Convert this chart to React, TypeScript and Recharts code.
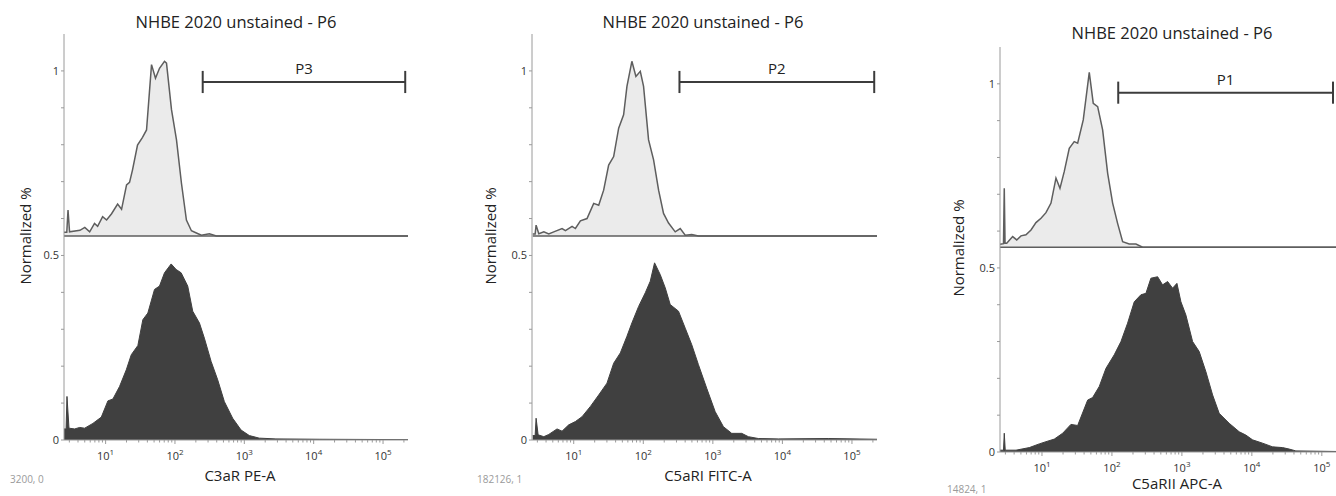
import React from "react";
import { ComposedChart, Area, XAxis, YAxis, ReferenceLine } from "recharts";

// x values are log10 of the channel intensity, y is normalized %
const TITLES = ["NHBE 2020 unstained - P6", "NHBE 2020 unstained - P6", "NHBE 2020 unstained - P6"];
const X_LABELS = ["C3aR PE-A", "C5aRI FITC-A", "C5aRII APC-A"];
const CORNER_NOTES = ["3200, 0", "182126, 1", "14824, 1"];
const GATE_NAMES = ["P3", "P2", "P1"];
const GATE_RANGES: [number, number][] = [
  [2.4, 5.32],
  [2.52, 5.32],
  [2.09, 5.16],
];
const GATE_LEVELS = [0.97, 0.97, 0.976];
const UNSTAINED_BASE = [0.553, 0.553, 0.556];
const Y_TICKS = [0, 0.1, 0.2, 0.3, 0.4, 0.5, 0.6, 0.7, 0.8, 0.9, 1];
const DECADES = [0, 1, 2, 3, 4, 5];
const X_DOMAIN: [number, number] = [0.4, 5.36];

const C3AR_UNSTAINED: [number, number][] = [
  [0.4, 0.01], [0.44, 0.01], [0.458, 0.07], [0.48, 0.011], [0.63, 0.015], [0.7, 0.023],
  [0.77, 0.011], [0.84, 0.034], [0.885, 0.026], [0.957, 0.052], [1.014, 0.043], [1.086, 0.06],
  [1.173, 0.086], [1.23, 0.072], [1.302, 0.138], [1.345, 0.145], [1.388, 0.179], [1.46, 0.246],
  [1.532, 0.267], [1.59, 0.287], [1.662, 0.464], [1.719, 0.427], [1.777, 0.454], [1.849, 0.473],
  [1.878, 0.468], [1.95, 0.342], [2.022, 0.26], [2.094, 0.142], [2.165, 0.043], [2.237, 0.014],
  [2.309, 0.008], [2.381, 0.002], [2.496, 0.006], [2.597, 0], [5.36, 0],
];
const C3AR_STAINED: [number, number][] = [
  [0.4, 0.03], [0.43, 0.03], [0.443, 0.118], [0.472, 0.032], [0.554, 0.03], [0.626, 0.034],
  [0.698, 0.032], [0.817, 0.045], [0.938, 0.062], [1.033, 0.106], [1.105, 0.111], [1.201, 0.145],
  [1.298, 0.19], [1.37, 0.231], [1.465, 0.256], [1.537, 0.326], [1.609, 0.344], [1.705, 0.408],
  [1.777, 0.417], [1.849, 0.453], [1.945, 0.477], [2.017, 0.462], [2.089, 0.453], [2.184, 0.417],
  [2.256, 0.349], [2.353, 0.317], [2.424, 0.276], [2.521, 0.213], [2.616, 0.163], [2.712, 0.104],
  [2.832, 0.059], [2.953, 0.027], [3.072, 0.012], [3.216, 0.005], [3.456, 0.003], [4.079, 0.002],
  [5.36, 0.001],
];
const C5AR1_UNSTAINED: [number, number][] = [
  [0.41, 0.005], [0.445, 0.005], [0.459, 0.029], [0.498, 0.006], [0.57, 0.011], [0.641, 0.005],
  [0.713, 0.011], [0.832, 0.02], [0.881, 0.014], [0.976, 0.026], [1.024, 0.02], [1.096, 0.041],
  [1.191, 0.047], [1.287, 0.088], [1.359, 0.083], [1.43, 0.124], [1.502, 0.192], [1.574, 0.215],
  [1.646, 0.292], [1.717, 0.328], [1.765, 0.405], [1.836, 0.473], [1.894, 0.432], [1.957, 0.446],
  [2.004, 0.405], [2.076, 0.26], [2.148, 0.206], [2.22, 0.124], [2.291, 0.061], [2.363, 0.035],
  [2.459, 0.011], [2.531, 0.02], [2.603, 0.002], [2.697, 0.004], [2.793, 0], [5.36, 0],
];
const C5AR1_STAINED: [number, number][] = [
  [0.41, 0.012], [0.445, 0.012], [0.459, 0.059], [0.488, 0.014], [0.57, 0.009], [0.641, 0.015],
  [0.76, 0.03], [0.832, 0.024], [0.928, 0.041], [1.024, 0.05], [1.119, 0.063], [1.24, 0.091],
  [1.359, 0.122], [1.478, 0.154], [1.574, 0.208], [1.67, 0.236], [1.765, 0.281], [1.836, 0.317],
  [1.933, 0.362], [2.029, 0.399], [2.1, 0.43], [2.162, 0.48], [2.244, 0.448], [2.316, 0.412],
  [2.387, 0.367], [2.506, 0.349], [2.603, 0.303], [2.697, 0.258], [2.793, 0.204], [2.912, 0.14],
  [3.033, 0.077], [3.152, 0.036], [3.271, 0.018], [3.415, 0.018], [3.511, 0.009], [3.654, 0.004],
  [3.941, 0.003], [4.659, 0.004], [5.36, 0.002],
];
const C5AR2_UNSTAINED: [number, number][] = [
  [0.4, 0.008], [0.45, 0.01], [0.461, 0.16], [0.472, 0.011], [0.496, 0.011], [0.581, 0.029],
  [0.639, 0.02], [0.7, 0.031], [0.771, 0.034], [0.843, 0.047], [0.914, 0.067], [0.986, 0.079],
  [1.057, 0.094], [1.129, 0.12], [1.2, 0.188], [1.257, 0.16], [1.319, 0.206], [1.39, 0.269],
  [1.461, 0.287], [1.51, 0.283], [1.59, 0.346], [1.676, 0.475], [1.733, 0.391], [1.796, 0.382],
  [1.867, 0.319], [1.939, 0.201], [2.01, 0.12], [2.081, 0.065], [2.153, 0.015], [2.247, 0.009],
  [2.343, 0.009], [2.439, 0], [5.36, 0],
];
const C5AR2_STAINED: [number, number][] = [
  [0.4, 0.005], [0.45, 0.005], [0.461, 0.051], [0.475, 0.005], [0.629, 0.005], [0.819, 0.012],
  [0.961, 0.022], [1.057, 0.028], [1.176, 0.035], [1.296, 0.051], [1.414, 0.075], [1.51, 0.072],
  [1.653, 0.141], [1.724, 0.148], [1.819, 0.178], [1.914, 0.227], [2.033, 0.264], [2.129, 0.3],
  [2.224, 0.35], [2.319, 0.408], [2.414, 0.427], [2.486, 0.431], [2.557, 0.472], [2.653, 0.476],
  [2.724, 0.454], [2.796, 0.463], [2.867, 0.445], [2.929, 0.458], [2.986, 0.408], [3.057, 0.372],
  [3.153, 0.3], [3.247, 0.273], [3.343, 0.218], [3.439, 0.155], [3.533, 0.105], [3.676, 0.078],
  [3.819, 0.055], [3.914, 0.046], [4.01, 0.033], [4.153, 0.024], [4.296, 0.014], [4.439, 0.012],
  [4.533, 0.008], [4.629, 0.003], [5.36, 0.001],
];

const UNSTAINED = [C3AR_UNSTAINED, C5AR1_UNSTAINED, C5AR2_UNSTAINED];
const STAINED = [C3AR_STAINED, C5AR1_STAINED, C5AR2_STAINED];

// log axis: decade ticks plus 2..9 minor ticks
const X_TICKS: number[] = [];
DECADES.forEach((d) => {
  for (let k = 1; k <= 9; k++) {
    const v = d + Math.log10(k);
    if (v >= X_DOMAIN[0] && v <= X_DOMAIN[1]) X_TICKS.push(v);
  }
});

const FONT = "'Open Sans', 'Noto Sans', sans-serif";
const AXIS = "#9a9a9a";

const layout = [
  { left: 0, margin: { top: 34, right: 32, bottom: 26, left: 24 }, title: [236, 22], yl: [25, 236], xl: [240, 475], note: [10, 479] },
  { left: 468, margin: { top: 34, right: 31, bottom: 26, left: 24 }, title: [703, 22], yl: [490, 236], xl: [708, 475], note: [477, 479] },
  { left: 936, margin: { top: 47, right: 29, bottom: 14, left: 24 }, title: [1172, 33], yl: [958, 248], xl: [1177, 483], note: [947, 489] },
];

const XTick = (props: any) => {
  const { x, y, payload } = props;
  const v = payload.value;
  const major = Math.abs(v - Math.round(v)) < 1e-6 && Math.round(v) > 0;
  return (
    <g>
      <line x1={x} x2={x} y1={y} y2={y + (major ? 4 : 2.5)} stroke={AXIS} />
      {major && (
        <text x={x} y={y + 20} textAnchor="middle" fontSize={11} fill="#333" fontFamily={FONT}>
          10
          <tspan dy={-5} fontSize={8}>
            {Math.round(v)}
          </tspan>
        </text>
      )}
    </g>
  );
};

const yFmt = (v: number) => (v === 0 ? "0" : v === 0.5 ? "0.5" : v === 1 ? "1" : "");

const Panel = ({ i }: { i: number }) => {
  const L = layout[i];
  const base = UNSTAINED_BASE[i];
  const light = UNSTAINED[i].map(([x, v]) => ({ x, band: [base, base + v] }));
  const dark = STAINED[i].map(([x, v]) => ({ x, v }));
  const [g0, g1] = GATE_RANGES[i];
  const lvl = GATE_LEVELS[i];
  const text = (pos: number[], s: string, extra: React.CSSProperties = {}) => (
    <div
      style={{
        position: "absolute",
        left: pos[0],
        top: pos[1],
        transform: "translate(-50%, -50%)",
        whiteSpace: "nowrap",
        fontFamily: FONT,
        fontSize: 15,
        lineHeight: 1,
        color: "#222",
        ...extra,
      }}
    >
      {s}
    </div>
  );
  return (
    <>
      <div style={{ position: "absolute", left: L.left, top: 0 }}>
        <ComposedChart width={440} height={496} margin={L.margin}>
          <XAxis
            type="number"
            dataKey="x"
            domain={X_DOMAIN}
            allowDataOverflow
            ticks={X_TICKS}
            interval={0}
            height={30}
            stroke={AXIS}
            tickLine={false}
            tickSize={0}
            tickMargin={0}
            tick={(p: any) => <XTick {...p} />}
          />
          <YAxis
            type="number"
            domain={[0, 1.1]}
            allowDataOverflow
            ticks={Y_TICKS}
            interval={0}
            width={40}
            stroke={AXIS}
            tickSize={3}
            tickFormatter={yFmt}
            tick={{ fontSize: 11, fill: "#333", fontFamily: FONT }}
          />
          <Area
            data={light}
            dataKey="band"
            type="linear"
            fill="#ebebeb"
            fillOpacity={1}
            stroke="#5e5e5e"
            strokeWidth={1.5}
            isAnimationActive={false}
          />
          <Area
            data={dark}
            dataKey="v"
            type="linear"
            baseValue={0}
            fill="#404040"
            fillOpacity={1}
            stroke="#404040"
            strokeWidth={1}
            isAnimationActive={false}
          />
          <ReferenceLine
            segment={[{ x: g0, y: lvl }, { x: g1, y: lvl }]}
            stroke="#3c3c3c"
            strokeWidth={2}
            label={{ value: GATE_NAMES[i], position: "top", offset: 8, fontSize: 15, fill: "#222", fontFamily: FONT }}
          />
          <ReferenceLine segment={[{ x: g0, y: lvl - 0.03 }, { x: g0, y: lvl + 0.03 }]} stroke="#3c3c3c" strokeWidth={2} />
          <ReferenceLine segment={[{ x: g1, y: lvl - 0.03 }, { x: g1, y: lvl + 0.03 }]} stroke="#3c3c3c" strokeWidth={2} />
        </ComposedChart>
      </div>
      {text(L.title, TITLES[i], { fontSize: 16.5 })}
      {text(L.yl, "Normalized %", { transform: "translate(-50%, -50%) rotate(-90deg)" })}
      {text(L.xl, X_LABELS[i])}
      {text([L.note[0], L.note[1]], CORNER_NOTES[i], { transform: "translate(0, -50%)", fontSize: 10, color: "#9a9a9a" })}
    </>
  );
};

export default function App() {
  return (
    <div style={{ position: "absolute", left: 0, top: 0, width: 1336, height: 496, overflow: "hidden", background: "#fff" }}>
      {[0, 1, 2].map((i) => (
        <Panel key={i} i={i} />
      ))}
    </div>
  );
}
